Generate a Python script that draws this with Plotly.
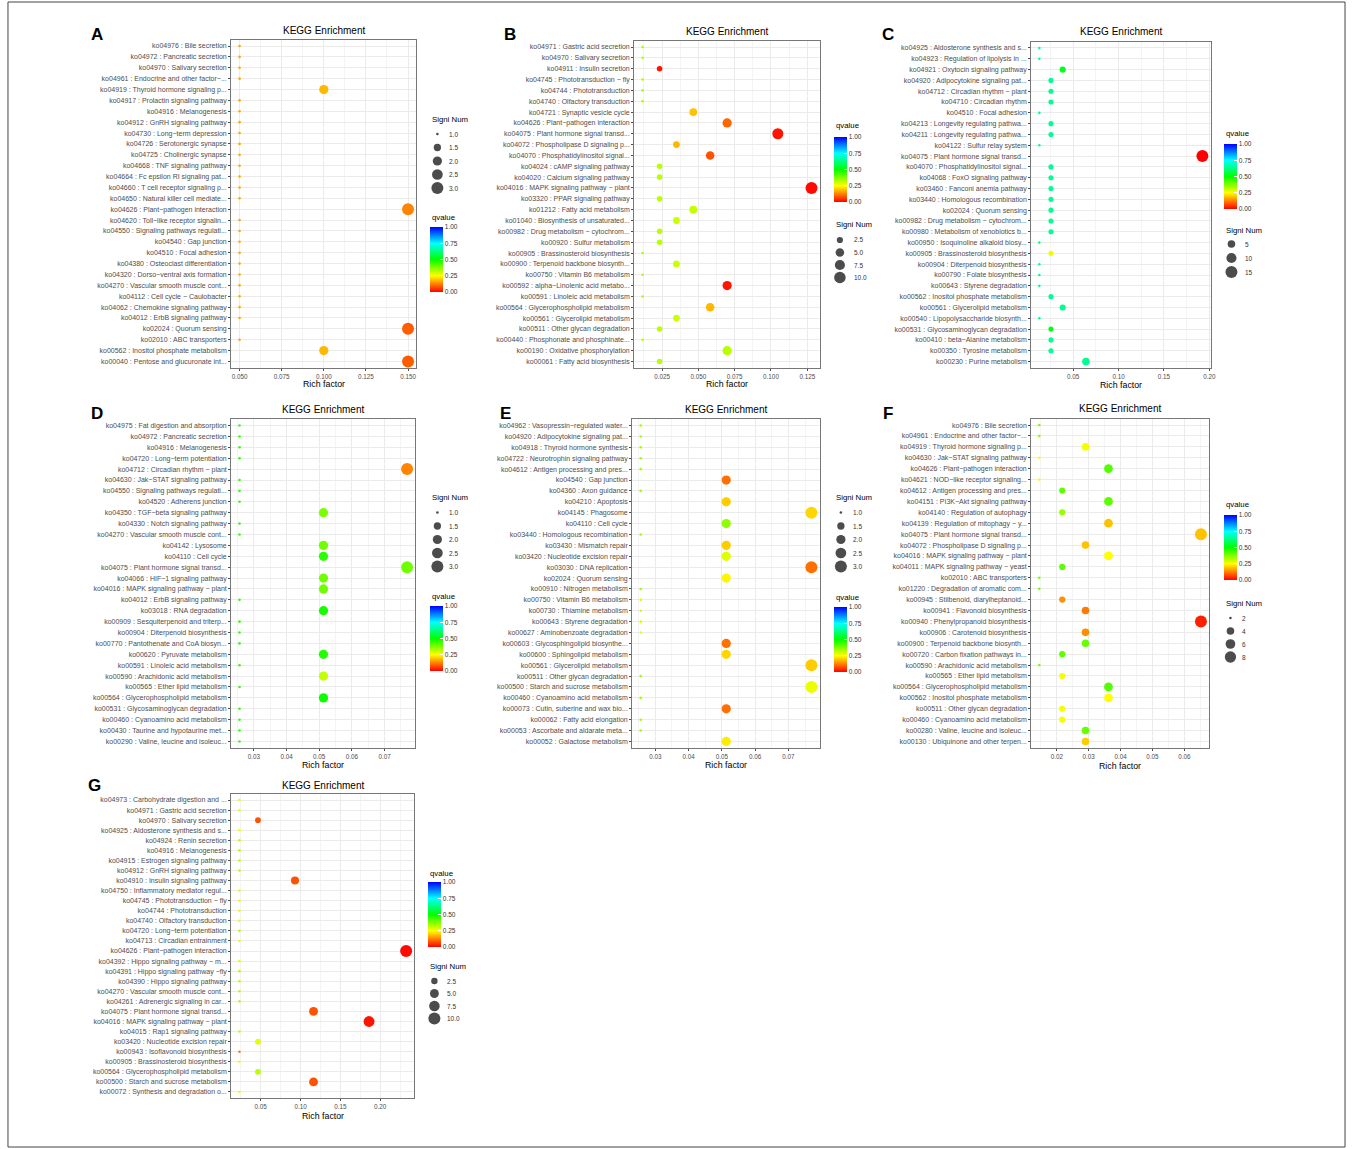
import numpy as np
import plotly.graph_objects as go

W, H = 1357, 1149
FONT = "Liberation Sans, Arial, Helvetica, sans-serif"

# ---------------- Panel A ----------------
a_terms = [
    "ko04976 : Bile secretion", "ko04972 : Pancreatic secretion", "ko04970 : Salivary secretion",
    "ko04961 : Endocrine and other factor−...", "ko04919 : Thyroid hormone signaling p...",
    "ko04917 : Prolactin signaling pathway", "ko04916 : Melanogenesis", "ko04912 : GnRH signaling pathway",
    "ko04730 : Long−term depression", "ko04726 : Serotonergic synapse", "ko04725 : Cholinergic synapse",
    "ko04668 : TNF signaling pathway", "ko04664 : Fc epsilon RI signaling pat...",
    "ko04660 : T cell receptor signaling p...", "ko04650 : Natural killer cell mediate...",
    "ko04626 : Plant−pathogen interaction", "ko04620 : Toll−like receptor signalin...",
    "ko04550 : Signaling pathways regulati...", "ko04540 : Gap junction", "ko04510 : Focal adhesion",
    "ko04380 : Osteoclast differentiation", "ko04320 : Dorso−ventral axis formation",
    "ko04270 : Vascular smooth muscle cont...", "ko04112 : Cell cycle − Caulobacter",
    "ko04062 : Chemokine signaling pathway", "ko04012 : ErbB signaling pathway", "ko02024 : Quorum sensing",
    "ko02010 : ABC transporters", "ko00562 : Inositol phosphate metabolism",
    "ko00040 : Pentose and glucuronate int...",
]
a_count = [1, 1, 1, 1, 2, 1, 1, 1, 1, 1, 1, 1, 1, 1, 1, 3, 1, 1, 1, 1, 1, 1, 1, 1, 1, 1, 3, 1, 2, 3]
a_rich = [0.05, 0.05, 0.05, 0.05, 0.10, 0.05, 0.05, 0.05, 0.05, 0.05, 0.05, 0.05, 0.05, 0.05, 0.05,
          0.15, 0.05, 0.05, 0.05, 0.05, 0.05, 0.05, 0.05, 0.05, 0.05, 0.05, 0.15, 0.05, 0.10, 0.15]
a_qvalue = [0.167, 0.167, 0.167, 0.167, 0.18, 0.167, 0.167, 0.167, 0.167, 0.167, 0.167, 0.167, 0.167,
            0.167, 0.167, 0.13, 0.167, 0.167, 0.167, 0.167, 0.167, 0.167, 0.167, 0.167, 0.167, 0.167,
            0.09, 0.167, 0.18, 0.09]
a_xticks = [0.050, 0.075, 0.100, 0.125, 0.150]
a_size_keys = [1.0, 1.5, 2.0, 2.5, 3.0]
a_size_text = ["1.0", "1.5", "2.0", "2.5", "3.0"]

# ---------------- Panel B ----------------
b_terms = [
    "ko04971 : Gastric acid secretion", "ko04970 : Salivary secretion", "ko04911 : Insulin secretion",
    "ko04745 : Phototransduction − fly", "ko04744 : Phototransduction", "ko04740 : Olfactory transduction",
    "ko04721 : Synaptic vesicle cycle", "ko04626 : Plant−pathogen interaction",
    "ko04075 : Plant hormone signal transd...", "ko04072 : Phospholipase D signaling p...",
    "ko04070 : Phosphatidylinositol signal...", "ko04024 : cAMP signaling pathway",
    "ko04020 : Calcium signaling pathway", "ko04016 : MAPK signaling pathway − plant",
    "ko03320 : PPAR signaling pathway", "ko01212 : Fatty acid metabolism",
    "ko01040 : Biosynthesis of unsaturated...", "ko00982 : Drug metabolism − cytochrom...",
    "ko00920 : Sulfur metabolism", "ko00905 : Brassinosteroid biosynthesis",
    "ko00900 : Terpenoid backbone biosynth...", "ko00750 : Vitamin B6 metabolism",
    "ko00592 : alpha−Linolenic acid metabo...", "ko00591 : Linoleic acid metabolism",
    "ko00564 : Glycerophospholipid metabolism", "ko00561 : Glycerolipid metabolism",
    "ko00511 : Other glycan degradation", "ko00440 : Phosphonate and phosphinate...",
    "ko00190 : Oxidative phosphorylation", "ko00061 : Fatty acid biosynthesis",
]
b_count = [1, 1, 2, 1, 1, 1, 4, 6, 9, 3, 5, 2, 2, 11, 2, 4, 3, 2, 2, 1, 3, 1, 6, 1, 5, 3, 2, 1, 6, 2]
b_rich = [0.0116, 0.0116, 0.0233, 0.0116, 0.0116, 0.0116, 0.0465, 0.0698, 0.1047, 0.0349, 0.0581,
          0.0233, 0.0233, 0.1279, 0.0233, 0.0465, 0.0349, 0.0233, 0.0233, 0.0116, 0.0349, 0.0116,
          0.0698, 0.0116, 0.0581, 0.0349, 0.0233, 0.0116, 0.0698, 0.0233]
b_qvalue = [0.33, 0.33, 0.02, 0.33, 0.33, 0.33, 0.19, 0.10, 0.02, 0.18, 0.08, 0.32, 0.32, 0.01, 0.32,
            0.31, 0.30, 0.32, 0.32, 0.33, 0.30, 0.33, 0.02, 0.33, 0.18, 0.30, 0.32, 0.33, 0.32, 0.32]
b_xticks = [0.025, 0.050, 0.075, 0.100, 0.125]
b_size_keys = [2.5, 5.0, 7.5, 10.0]
b_size_text = ["2.5", "5.0", "7.5", "10.0"]

# ---------------- Panel C ----------------
c_terms = [
    "ko04925 : Aldosterone synthesis and s...", "ko04923 : Regulation of lipolysis in ...",
    "ko04921 : Oxytocin signaling pathway", "ko04920 : Adipocytokine signaling pat...",
    "ko04712 : Circadian rhythm − plant", "ko04710 : Circadian rhythm", "ko04510 : Focal adhesion",
    "ko04213 : Longevity regulating pathwa...", "ko04211 : Longevity regulating pathwa...",
    "ko04122 : Sulfur relay system", "ko04075 : Plant hormone signal transd...",
    "ko04070 : Phosphatidylinositol signal...", "ko04068 : FoxO signaling pathway",
    "ko03460 : Fanconi anemia pathway", "ko03440 : Homologous recombination", "ko02024 : Quorum sensing",
    "ko00982 : Drug metabolism − cytochrom...", "ko00980 : Metabolism of xenobiotics b...",
    "ko00950 : Isoquinoline alkaloid biosy...", "ko00905 : Brassinosteroid biosynthesis",
    "ko00904 : Diterpenoid biosynthesis", "ko00790 : Folate biosynthesis", "ko00643 : Styrene degradation",
    "ko00562 : Inositol phosphate metabolism", "ko00561 : Glycerolipid metabolism",
    "ko00540 : Lipopolysaccharide biosynth...", "ko00531 : Glycosaminoglycan degradation",
    "ko00410 : beta−Alanine metabolism", "ko00350 : Tyrosine metabolism", "ko00230 : Purine metabolism",
]
c_count = [1, 1, 3, 2, 2, 2, 1, 2, 2, 1, 15, 2, 2, 2, 2, 2, 2, 2, 1, 2, 1, 1, 1, 2, 3, 1, 2, 2, 2, 5]
c_rich = [0.0128, 0.0128, 0.0385, 0.0256, 0.0256, 0.0256, 0.0128, 0.0256, 0.0256, 0.0128, 0.1923,
          0.0256, 0.0256, 0.0256, 0.0256, 0.0256, 0.0256, 0.0256, 0.0128, 0.0256, 0.0128, 0.0128,
          0.0128, 0.0256, 0.0385, 0.0128, 0.0256, 0.0256, 0.0256, 0.0641]
c_qvalue = [0.64, 0.64, 0.53, 0.64, 0.64, 0.64, 0.64, 0.64, 0.64, 0.64, 0.00, 0.64, 0.64, 0.64, 0.64,
            0.64, 0.64, 0.64, 0.64, 0.27, 0.64, 0.64, 0.64, 0.64, 0.64, 0.64, 0.52, 0.64, 0.64, 0.64]
c_xticks = [0.05, 0.10, 0.15, 0.20]
c_size_keys = [5, 10, 15]
c_size_text = ["5", "10", "15"]

# ---------------- Panel D ----------------
d_terms = [
    "ko04975 : Fat digestion and absorption", "ko04972 : Pancreatic secretion", "ko04916 : Melanogenesis",
    "ko04720 : Long−term potentiation", "ko04712 : Circadian rhythm − plant",
    "ko04630 : Jak−STAT signaling pathway", "ko04550 : Signaling pathways regulati...",
    "ko04520 : Adherens junction", "ko04350 : TGF−beta signaling pathway", "ko04330 : Notch signaling pathway",
    "ko04270 : Vascular smooth muscle cont...", "ko04142 : Lysosome", "ko04110 : Cell cycle",
    "ko04075 : Plant hormone signal transd...", "ko04066 : HIF−1 signaling pathway",
    "ko04016 : MAPK signaling pathway − plant", "ko04012 : ErbB signaling pathway",
    "ko03018 : RNA degradation", "ko00909 : Sesquiterpenoid and triterp...",
    "ko00904 : Diterpenoid biosynthesis", "ko00770 : Pantothenate and CoA biosyn...",
    "ko00620 : Pyruvate metabolism", "ko00591 : Linoleic acid metabolism",
    "ko00590 : Arachidonic acid metabolism", "ko00565 : Ether lipid metabolism",
    "ko00564 : Glycerophospholipid metabolism", "ko00531 : Glycosaminoglycan degradation",
    "ko00460 : Cyanoamino acid metabolism", "ko00430 : Taurine and hypotaurine met...",
    "ko00290 : Valine, leucine and isoleuc...",
]
d_count = [1, 1, 1, 1, 3, 1, 1, 1, 2, 1, 1, 2, 2, 3, 2, 2, 1, 2, 1, 1, 1, 2, 1, 2, 1, 2, 1, 1, 1, 1]
d_rich = [0.0256, 0.0256, 0.0256, 0.0256, 0.0769, 0.0256, 0.0256, 0.0256, 0.0513, 0.0256, 0.0256,
          0.0513, 0.0513, 0.0769, 0.0513, 0.0513, 0.0256, 0.0513, 0.0256, 0.0256, 0.0256, 0.0513,
          0.0256, 0.0513, 0.0256, 0.0513, 0.0256, 0.0256, 0.0256, 0.0256]
d_qvalue = [0.45, 0.45, 0.45, 0.45, 0.13, 0.45, 0.45, 0.45, 0.38, 0.45, 0.45, 0.39, 0.46, 0.39, 0.39,
            0.39, 0.45, 0.48, 0.45, 0.45, 0.45, 0.47, 0.45, 0.31, 0.45, 0.49, 0.45, 0.45, 0.45, 0.45]
d_xticks = [0.03, 0.04, 0.05, 0.06, 0.07]
d_size_keys = [1.0, 1.5, 2.0, 2.5, 3.0]
d_size_text = ["1.0", "1.5", "2.0", "2.5", "3.0"]

# ---------------- Panel E ----------------
e_terms = [
    "ko04962 : Vasopressin−regulated water...", "ko04920 : Adipocytokine signaling pat...",
    "ko04918 : Thyroid hormone synthesis", "ko04722 : Neurotrophin signaling pathway",
    "ko04612 : Antigen processing and pres...", "ko04540 : Gap junction", "ko04360 : Axon guidance",
    "ko04210 : Apoptosis", "ko04145 : Phagosome", "ko04110 : Cell cycle",
    "ko03440 : Homologous recombination", "ko03430 : Mismatch repair",
    "ko03420 : Nucleotide excision repair", "ko03030 : DNA replication", "ko02024 : Quorum sensing",
    "ko00910 : Nitrogen metabolism", "ko00750 : Vitamin B6 metabolism", "ko00730 : Thiamine metabolism",
    "ko00643 : Styrene degradation", "ko00627 : Aminobenzoate degradation",
    "ko00603 : Glycosphingolipid biosynthe...", "ko00600 : Sphingolipid metabolism",
    "ko00561 : Glycerolipid metabolism", "ko00511 : Other glycan degradation",
    "ko00500 : Starch and sucrose metabolism", "ko00460 : Cyanoamino acid metabolism",
    "ko00073 : Cutin, suberine and wax bio...", "ko00062 : Fatty acid elongation",
    "ko00053 : Ascorbate and aldarate meta...", "ko00052 : Galactose metabolism",
]
e_count = [1, 1, 1, 1, 1, 2, 1, 2, 3, 2, 1, 2, 2, 3, 2, 1, 1, 1, 1, 1, 2, 2, 3, 1, 3, 1, 2, 1, 1, 2]
e_rich = [0.0256, 0.0256, 0.0256, 0.0256, 0.0256, 0.0513, 0.0256, 0.0513, 0.0769, 0.0513, 0.0256,
          0.0513, 0.0513, 0.0769, 0.0513, 0.0256, 0.0256, 0.0256, 0.0256, 0.0256, 0.0513, 0.0513,
          0.0769, 0.0256, 0.0769, 0.0256, 0.0513, 0.0256, 0.0256, 0.0513]
e_qvalue = [0.34, 0.34, 0.34, 0.34, 0.34, 0.11, 0.34, 0.20, 0.21, 0.36, 0.34, 0.20, 0.28, 0.11, 0.24,
            0.34, 0.29, 0.29, 0.29, 0.27, 0.11, 0.21, 0.20, 0.34, 0.27, 0.34, 0.11, 0.34, 0.34, 0.23]
e_xticks = [0.03, 0.04, 0.05, 0.06, 0.07]
e_size_keys = [1.0, 1.5, 2.0, 2.5, 3.0]
e_size_text = ["1.0", "1.5", "2.0", "2.5", "3.0"]

# ---------------- Panel F ----------------
f_terms = [
    "ko04976 : Bile secretion", "ko04961 : Endocrine and other factor−...",
    "ko04919 : Thyroid hormone signaling p...", "ko04630 : Jak−STAT signaling pathway",
    "ko04626 : Plant−pathogen interaction", "ko04621 : NOD−like receptor signaling...",
    "ko04612 : Antigen processing and pres...", "ko04151 : PI3K−Akt signaling pathway",
    "ko04140 : Regulation of autophagy", "ko04139 : Regulation of mitophagy − y...",
    "ko04075 : Plant hormone signal transd...", "ko04072 : Phospholipase D signaling p...",
    "ko04016 : MAPK signaling pathway − plant", "ko04011 : MAPK signaling pathway − yeast",
    "ko02010 : ABC transporters", "ko01220 : Degradation of aromatic com...",
    "ko00945 : Stilbenoid, diarylheptanoid...", "ko00941 : Flavonoid biosynthesis",
    "ko00940 : Phenylpropanoid biosynthesis", "ko00906 : Carotenoid biosynthesis",
    "ko00900 : Terpenoid backbone biosynth...", "ko00720 : Carbon fixation pathways in...",
    "ko00590 : Arachidonic acid metabolism", "ko00565 : Ether lipid metabolism",
    "ko00564 : Glycerophospholipid metabolism", "ko00562 : Inositol phosphate metabolism",
    "ko00511 : Other glycan degradation", "ko00460 : Cyanoamino acid metabolism",
    "ko00280 : Valine, leucine and isoleuc...", "ko00130 : Ubiquinone and other terpen...",
]
f_count = [2, 2, 4, 2, 5, 2, 3, 5, 3, 5, 9, 4, 5, 3, 2, 2, 3, 4, 9, 4, 4, 3, 2, 3, 5, 5, 3, 3, 4, 4]
f_rich = [0.0145, 0.0145, 0.0290, 0.0145, 0.0362, 0.0145, 0.0217, 0.0362, 0.0217, 0.0362, 0.0652,
          0.0290, 0.0362, 0.0217, 0.0145, 0.0145, 0.0217, 0.0290, 0.0652, 0.0290, 0.0290, 0.0217,
          0.0145, 0.0217, 0.0362, 0.0362, 0.0217, 0.0217, 0.0290, 0.0290]
f_qvalue = [0.38, 0.38, 0.26, 0.26, 0.42, 0.26, 0.41, 0.41, 0.35, 0.19, 0.19, 0.19, 0.25, 0.41, 0.38,
            0.38, 0.14, 0.12, 0.03, 0.14, 0.40, 0.41, 0.38, 0.26, 0.42, 0.25, 0.26, 0.26, 0.40, 0.20]
f_xticks = [0.02, 0.03, 0.04, 0.05, 0.06]
f_size_keys = [2, 4, 6, 8]
f_size_text = ["2", "4", "6", "8"]

# ---------------- Panel G ----------------
g_terms = [
    "ko04973 : Carbohydrate digestion and ...", "ko04971 : Gastric acid secretion",
    "ko04970 : Salivary secretion", "ko04925 : Aldosterone synthesis and s...", "ko04924 : Renin secretion",
    "ko04916 : Melanogenesis", "ko04915 : Estrogen signaling pathway", "ko04912 : GnRH signaling pathway",
    "ko04910 : Insulin signaling pathway", "ko04750 : Inflammatory mediator regul...",
    "ko04745 : Phototransduction − fly", "ko04744 : Phototransduction", "ko04740 : Olfactory transduction",
    "ko04720 : Long−term potentiation", "ko04713 : Circadian entrainment",
    "ko04626 : Plant−pathogen interaction", "ko04392 : Hippo signaling pathway − m...",
    "ko04391 : Hippo signaling pathway −fly", "ko04390 : Hippo signaling pathway",
    "ko04270 : Vascular smooth muscle cont...", "ko04261 : Adrenergic signaling in car...",
    "ko04075 : Plant hormone signal transd...", "ko04016 : MAPK signaling pathway − plant",
    "ko04015 : Rap1 signaling pathway", "ko03420 : Nucleotide excision repair",
    "ko00943 : Isoflavonoid biosynthesis", "ko00905 : Brassinosteroid biosynthesis",
    "ko00564 : Glycerophospholipid metabolism", "ko00500 : Starch and sucrose metabolism",
    "ko00072 : Synthesis and degradation o...",
]
g_count = [1, 1, 2, 1, 1, 1, 1, 1, 4, 1, 1, 1, 1, 1, 1, 10, 1, 1, 1, 1, 1, 5, 8, 1, 2, 1, 1, 2, 5, 1]
g_rich = [0.0233, 0.0233, 0.0465, 0.0233, 0.0233, 0.0233, 0.0233, 0.0233, 0.0930, 0.0233, 0.0233,
          0.0233, 0.0233, 0.0233, 0.0233, 0.2326, 0.0233, 0.0233, 0.0233, 0.0233, 0.0233, 0.1163,
          0.1860, 0.0233, 0.0465, 0.0233, 0.0233, 0.0465, 0.1163, 0.0233]
g_qvalue = [0.27, 0.27, 0.08, 0.27, 0.32, 0.32, 0.32, 0.32, 0.08, 0.27, 0.27, 0.27, 0.27, 0.32, 0.27,
            0.01, 0.27, 0.32, 0.32, 0.32, 0.32, 0.08, 0.02, 0.32, 0.28, 0.12, 0.27, 0.32, 0.08, 0.27]
g_xticks = [0.05, 0.10, 0.15, 0.20]
g_size_keys = [2.5, 5.0, 7.5, 10.0]
g_size_text = ["2.5", "5.0", "7.5", "10.0"]

# qvalue colour scale (red -> yellow -> green -> cyan -> blue)
QSCALE = [[0.0, "#FF0000"], [0.25, "#FFFF00"], [0.5, "#00FF00"], [0.75, "#00FFFF"], [1.0, "#0000FF"]]

# Panel geometry in pixels: plot box (left, right, top, bottom) and legend placement.
# legend: order, x of titles, bar left, dot centre, label left, title/bar/key positions
panels = [
    dict(letter="A", terms=a_terms, count=a_count, rich=a_rich, q=a_qvalue, xticks=a_xticks, xfmt="{:.3f}",
         keys=a_size_keys, keytext=a_size_text, box=(232, 418, 39.5, 368), title_y=31, xlab_y=383.5,
         letter_xy=(97, 35), lx=432, dot_x=439, lab_x=449, sn_y=119, key0=134, kstep=13.5,
         q_y=217, bar_top=227),
    dict(letter="B", terms=b_terms, count=b_count, rich=b_rich, q=b_qvalue, xticks=b_xticks, xfmt="{:.3f}",
         keys=b_size_keys, keytext=b_size_text, box=(636.5, 823, 40.5, 368), title_y=32, xlab_y=384,
         letter_xy=(512, 35), lx=837, dot_x=843, lab_x=855, sn_y=225, key0=240, kstep=12.5,
         q_y=126, bar_top=137),
    dict(letter="C", terms=c_terms, count=c_count, rich=c_rich, q=c_qvalue, xticks=c_xticks, xfmt="{:.2f}",
         keys=c_size_keys, keytext=c_size_text, box=(1035, 1215, 41.5, 368), title_y=32, xlab_y=385,
         letter_xy=(891, 35), lx=1229, dot_x=1236, lab_x=1248, sn_y=230, key0=244, kstep=14,
         q_y=134, bar_top=144),
    dict(letter="D", terms=d_terms, count=d_count, rich=d_rich, q=d_qvalue, xticks=d_xticks, xfmt="{:.2f}",
         keys=d_size_keys, keytext=d_size_text, box=(232, 417, 419, 748), title_y=410, xlab_y=765,
         letter_xy=(97, 413), lx=432, dot_x=439, lab_x=449, sn_y=497, key0=512.5, kstep=13.5,
         q_y=596, bar_top=606),
    dict(letter="E", terms=e_terms, count=e_count, rich=e_rich, q=e_qvalue, xticks=e_xticks, xfmt="{:.2f}",
         keys=e_size_keys, keytext=e_size_text, box=(634.5, 823, 419, 748), title_y=410, xlab_y=765,
         letter_xy=(507, 413), lx=837, dot_x=844, lab_x=854, sn_y=497, key0=512.5, kstep=13.5,
         q_y=597, bar_top=607),
    dict(letter="F", terms=f_terms, count=f_count, rich=f_rich, q=f_qvalue, xticks=f_xticks, xfmt="{:.2f}",
         keys=f_size_keys, keytext=f_size_text, box=(1035, 1213.5, 418.5, 748), title_y=408.5, xlab_y=766,
         letter_xy=(891, 413), lx=1229, dot_x=1235, lab_x=1245, sn_y=603, key0=618, kstep=13,
         q_y=505, bar_top=515),
    dict(letter="G", terms=g_terms, count=g_count, rich=g_rich, q=g_qvalue, xticks=g_xticks, xfmt="{:.2f}",
         keys=g_size_keys, keytext=g_size_text, box=(232, 416, 794, 1098), title_y=785, xlab_y=1115.5,
         letter_xy=(95, 785), lx=430, dot_x=436, lab_x=447, sn_y=966, key0=981, kstep=12.5,
         q_y=873, bar_top=882),
]

BAR_LEN = 65
DMIN, DMAX = 2.6, 12.0


def dot_px(n, lo, hi):
    """Area-style size scale: diameter grows with the square root of the count."""
    t = (np.asarray(n, dtype=float) - lo) / (hi - lo)
    return DMIN + (DMAX - DMIN) * np.sqrt(np.clip(t, 0, 1))


def px_x(v):
    return v / W


def px_y(v):
    return 1 - v / H


fig = go.Figure()
layout = dict(
    width=W, height=H, margin=dict(l=0, r=0, t=0, b=0), autosize=False,
    paper_bgcolor="white", plot_bgcolor="white",
    font=dict(family=FONT, color="#333333"), showlegend=False,
)
annotations = []

for k, p in enumerate(panels, start=1):
    sfx = "" if k == 1 else str(k)
    xr, yr = "x" + sfx, "y" + sfx
    ca = "coloraxis" + sfx
    lk = str(k + len(panels))
    lxr, lyr = "x" + lk, "y" + lk
    L, R, T, B = p["box"]
    n = len(p["terms"])
    cmin, cmax = min(p["count"]), max(p["count"])

    # main dot plot
    fig.add_trace(go.Scatter(
        x=p["rich"], y=p["terms"], mode="markers", xaxis=xr, yaxis=yr, cliponaxis=False,
        marker=dict(size=dot_px(p["count"], cmin, cmax), color=p["q"], coloraxis=ca,
                    line=dict(width=0), opacity=1),
        customdata=np.column_stack([p["count"], p["q"]]),
        hovertemplate="%{y}<br>Rich factor: %{x:.4f}<br>Signi Num: %{customdata[0]}"
                      "<br>qvalue: %{customdata[1]:.2f}<extra></extra>",
    ))

    lo, hi = min(p["rich"]), max(p["rich"])
    pad = 0.05 * (hi - lo)
    step = p["xticks"][1] - p["xticks"][0]
    minor_vals = [p["xticks"][0] - step / 2] + [t + step / 2 for t in p["xticks"]]

    layout["xaxis" + sfx] = dict(
        domain=[px_x(L), px_x(R)], anchor=yr, range=[lo - pad, hi + pad],
        tickvals=p["xticks"], ticktext=[p["xfmt"].format(t) for t in p["xticks"]],
        tickfont=dict(size=6.3, color="#4D4D4D", family=FONT),
        ticks="outside", ticklen=2, tickwidth=0.6, tickcolor="#4D4D4D",
        showgrid=True, gridcolor="#EBEBEB", gridwidth=1,
        minor=dict(tickvals=minor_vals, showgrid=True, gridcolor="#F4F4F4", gridwidth=0.6, ticks=""),
        showline=True, mirror=True, linecolor="#777777", linewidth=1, zeroline=False, fixedrange=True,
    )
    layout["yaxis" + sfx] = dict(
        domain=[px_y(B), px_y(T)], anchor=xr, type="category",
        categoryorder="array", categoryarray=p["terms"][::-1], range=[-0.6, n - 0.4],
        tickfont=dict(size=7, color="#4D4D4D", family=FONT),
        ticks="outside", ticklen=2, tickwidth=0.6, tickcolor="#4D4D4D",
        showgrid=True, gridcolor="#EBEBEB", gridwidth=1,
        showline=True, mirror=True, linecolor="#777777", linewidth=1, zeroline=False, fixedrange=True,
    )

    # qvalue colour bar
    layout[ca] = dict(
        cmin=0, cmax=1, colorscale=QSCALE,
        colorbar=dict(
            x=px_x(p["lx"]), xanchor="left", xpad=0, y=px_y(p["bar_top"]), yanchor="top", ypad=0,
            len=BAR_LEN, lenmode="pixels", thickness=13, thicknessmode="pixels", outlinewidth=0,
            tickvals=[0, 0.25, 0.5, 0.75, 1.0], ticktext=["0.00", "0.25", "0.50", "0.75", "1.00"],
            ticks="inside", ticklen=2.5, tickcolor="white", tickwidth=1,
            tickfont=dict(size=6.5, color="#333333", family=FONT),
        ),
    )

    # Signi Num size key on its own hidden axes
    nk = len(p["keys"])
    key_top = p["key0"] - p["kstep"] / 2
    key_bot = p["key0"] + (nk - 1) * p["kstep"] + p["kstep"] / 2
    x0 = p["dot_x"] - 10
    layout["xaxis" + lk] = dict(domain=[px_x(x0), px_x(x0 + 40)], range=[0, 40], anchor=lyr,
                                visible=False, fixedrange=True)
    layout["yaxis" + lk] = dict(domain=[px_y(key_bot), px_y(key_top)], range=[nk - 0.5, -0.5],
                                anchor=lxr, visible=False, fixedrange=True)
    key_pos = list(range(nk))
    fig.add_trace(go.Scatter(
        x=[10] * nk, y=key_pos, mode="markers", xaxis=lxr, yaxis=lyr, cliponaxis=False,
        marker=dict(size=dot_px(p["keys"], cmin, cmax), color="black", line=dict(width=0)),
        hoverinfo="skip",
    ))
    for i, txt in enumerate(p["keytext"]):
        annotations.append(dict(text=txt, x=10 + p["lab_x"] - p["dot_x"], y=key_pos[i], xref=lxr, yref=lyr,
                                xanchor="left", yanchor="middle", showarrow=False,
                                font=dict(size=6.5, color="#333333", family=FONT)))

    # titles and labels
    annotations += [
        dict(text="KEGG Enrichment", x=px_x((L + R) / 2), y=px_y(p["title_y"]), xref="paper", yref="paper",
             xanchor="center", yanchor="middle", showarrow=False,
             font=dict(size=10, color="black", family=FONT)),
        dict(text="Rich factor", x=px_x((L + R) / 2), y=px_y(p["xlab_y"]), xref="paper", yref="paper",
             xanchor="center", yanchor="middle", showarrow=False,
             font=dict(size=8.8, color="black", family=FONT)),
        dict(text="<b>" + p["letter"] + "</b>", x=px_x(p["letter_xy"][0]), y=px_y(p["letter_xy"][1]),
             xref="paper", yref="paper", xanchor="center", yanchor="middle", showarrow=False,
             font=dict(size=17, color="black", family=FONT)),
        dict(text="Signi Num", x=px_x(p["lx"]), y=px_y(p["sn_y"]), xref="paper", yref="paper",
             xanchor="left", yanchor="middle", showarrow=False,
             font=dict(size=7.8, color="black", family=FONT)),
        dict(text="qvalue", x=px_x(p["lx"]), y=px_y(p["q_y"]), xref="paper", yref="paper",
             xanchor="left", yanchor="middle", showarrow=False,
             font=dict(size=7.8, color="black", family=FONT)),
    ]

layout["annotations"] = annotations
layout["shapes"] = [dict(type="rect", xref="paper", yref="paper", x0=px_x(8), x1=px_x(1350),
                         y0=px_y(1147), y1=px_y(2), line=dict(color="#444444", width=1),
                         fillcolor="rgba(0,0,0,0)", layer="above")]
fig.update_layout(**layout)
fig.write_html("out.html")
